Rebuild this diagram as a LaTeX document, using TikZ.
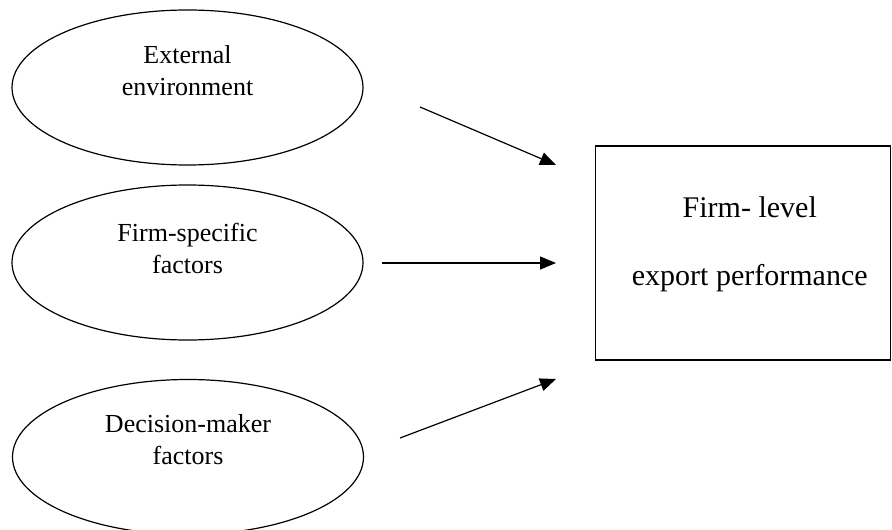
\documentclass[tikz,border=0pt]{standalone}
\usepackage{fontspec}
\setmainfont{Liberation Serif}
\usetikzlibrary{shapes.geometric,arrows.meta}

\tikzset{
  factor/.style={draw, ellipse, line width=0.6pt, inner sep=0pt, minimum width=175.5pt, minimum height=77.5pt},
  factortext/.style={font=\fontsize{13}{16}\selectfont, align=center},
  outcome/.style={draw, rectangle, line width=0.6pt, inner sep=0pt, minimum width=147.5pt, minimum height=107pt}
}

\begin{document}
\begin{tikzpicture}[x=0.5pt, y=-0.5pt]

\useasboundingbox (0,0) rectangle (892,529);

\node [factor] (extenv) at (187.5,87.5)
  [label={[factortext, yshift=8.25pt]center:External\\environment}] {};
\node [factor] (firmspec) at (187.5,262.5)
  [label={[factortext, yshift=7.25pt]center:Firm-specific\\factors}] {};
\node [factor] (decmaker) at (188,457)
  [label={[factortext, yshift=8.75pt]center:Decision-maker\\factors}] {};

\node [outcome] (perf) at (742.75,253)
  [label={[font=\fontsize{15}{34}\selectfont, align=center, xshift=3.5pt, yshift=4.5pt]center:Firm- level\\export performance}] {};

\coordinate (extout) at (420,107);
\coordinate (firmout) at (382,263);
\coordinate (decout) at (400,438);
\coordinate (extin) at (556,165);
\coordinate (firmin) at (556,263);
\coordinate (decin) at (556,379);

\begin{scope}[line width=0.6pt, -{Triangle[length=8pt,width=6.5pt]}]
  \draw (extout) -- (extin);
  \draw (firmout) -- (firmin);
  \draw (decout) -- (decin);
\end{scope}

\end{tikzpicture}
\end{document}
